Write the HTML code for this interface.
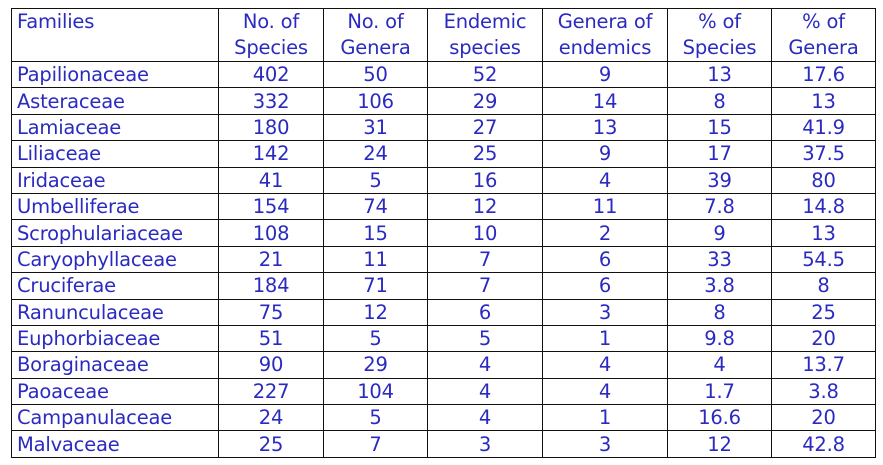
<!DOCTYPE html>
<html><head><style>
html,body{margin:0;padding:0;background:#fff;width:883px;height:465px;overflow:hidden}
table{position:absolute;left:11px;top:8px;border-collapse:collapse;table-layout:fixed;width:864px;
font-family:"DejaVu Sans","Liberation Sans",sans-serif;font-size:19.5px;color:#2a2ac0;letter-spacing:-0.2px}
td{border:1.5px solid #111;padding:0;text-align:center;height:25.4px;line-height:25px;white-space:nowrap;overflow:hidden}
td:first-child{text-align:left;padding-left:5px}
tr.h td{height:51px;line-height:26px;vertical-align:top;padding-top:0}
</style></head><body>
<table>
<colgroup><col style="width:207px"><col style="width:105px"><col style="width:104px"><col style="width:115px"><col style="width:125px"><col style="width:104px"><col style="width:104px"></colgroup>
<tr class="h"><td>Families</td><td>No. of<br>Species</td><td>No. of<br>Genera</td><td>Endemic<br>species</td><td>Genera of<br>endemics</td><td>% of<br>Species</td><td>% of<br>Genera</td></tr>
<tr><td>Papilionaceae</td><td>402</td><td>50</td><td>52</td><td>9</td><td>13</td><td>17.6</td></tr>
<tr><td>Asteraceae</td><td>332</td><td>106</td><td>29</td><td>14</td><td>8</td><td>13</td></tr>
<tr><td>Lamiaceae</td><td>180</td><td>31</td><td>27</td><td>13</td><td>15</td><td>41.9</td></tr>
<tr><td>Liliaceae</td><td>142</td><td>24</td><td>25</td><td>9</td><td>17</td><td>37.5</td></tr>
<tr><td>Iridaceae</td><td>41</td><td>5</td><td>16</td><td>4</td><td>39</td><td>80</td></tr>
<tr><td>Umbelliferae</td><td>154</td><td>74</td><td>12</td><td>11</td><td>7.8</td><td>14.8</td></tr>
<tr><td>Scrophulariaceae</td><td>108</td><td>15</td><td>10</td><td>2</td><td>9</td><td>13</td></tr>
<tr><td>Caryophyllaceae</td><td>21</td><td>11</td><td>7</td><td>6</td><td>33</td><td>54.5</td></tr>
<tr><td>Cruciferae</td><td>184</td><td>71</td><td>7</td><td>6</td><td>3.8</td><td>8</td></tr>
<tr><td>Ranunculaceae</td><td>75</td><td>12</td><td>6</td><td>3</td><td>8</td><td>25</td></tr>
<tr><td>Euphorbiaceae</td><td>51</td><td>5</td><td>5</td><td>1</td><td>9.8</td><td>20</td></tr>
<tr><td>Boraginaceae</td><td>90</td><td>29</td><td>4</td><td>4</td><td>4</td><td>13.7</td></tr>
<tr><td>Paoaceae</td><td>227</td><td>104</td><td>4</td><td>4</td><td>1.7</td><td>3.8</td></tr>
<tr><td>Campanulaceae</td><td>24</td><td>5</td><td>4</td><td>1</td><td>16.6</td><td>20</td></tr>
<tr><td>Malvaceae</td><td>25</td><td>7</td><td>3</td><td>3</td><td>12</td><td>42.8</td></tr>
</table>
</body></html>
